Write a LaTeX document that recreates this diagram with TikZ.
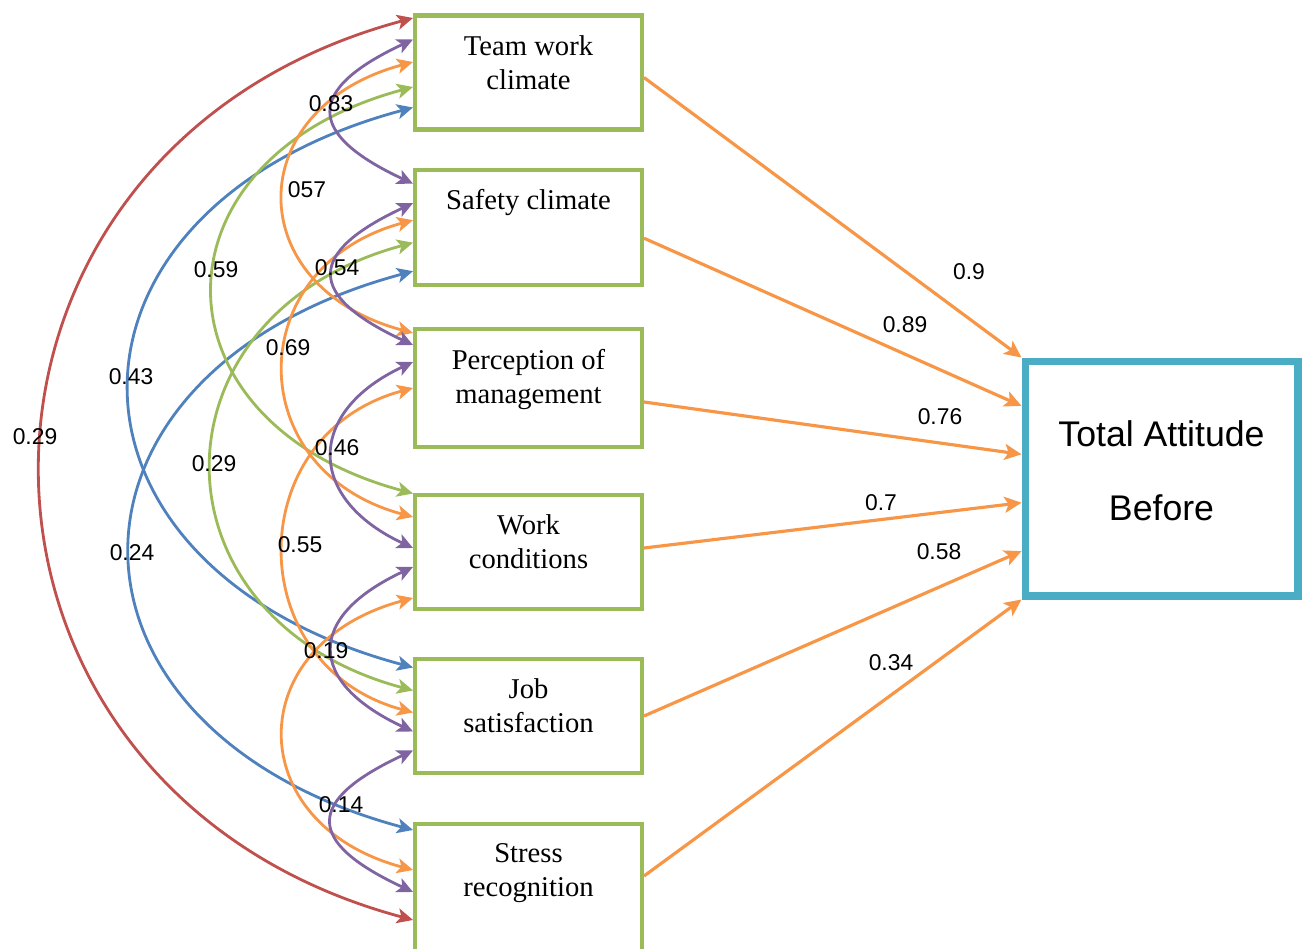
\documentclass[tikz,border=0pt]{standalone}
\usepackage{fontspec}
\setmainfont{Liberation Serif}
\newfontfamily\numfont{Liberation Sans}
\usepackage{xcolor}
\usetikzlibrary{arrows.meta,calc}
\definecolor{facgreen}{HTML}{9BBB59}
\definecolor{totalteal}{HTML}{4BACC6}
\definecolor{pathorange}{HTML}{F79646}
\definecolor{corrblue}{HTML}{4F81BD}
\definecolor{corrred}{HTML}{C0504D}
\definecolor{corrpurple}{HTML}{8064A2}
\definecolor{corrgreen}{HTML}{9BBB59}
\tikzset{
  factorbox/.style={rectangle,draw=facgreen,line width=2.3pt,inner sep=0pt,font=\fontsize{16.3pt}{19.3pt}\selectfont,
    execute at begin node={\begin{minipage}[c][#1][t]{4.54cm}\centering\vspace*{0.4cm}},
    execute at end node={\end{minipage}}},
  factorbox/.default=2.28cm,
  totalbox/.style={rectangle,draw=totalteal,line width=4pt,minimum width=5.46cm,minimum height=4.7cm,align=center,font=\numfont\fontsize{20.3pt}{42pt}\selectfont},
  corr/.style={{Stealth[length=0.32cm,width=0.3cm,inset=0.08cm]}-{Stealth[length=0.32cm,width=0.3cm,inset=0.08cm]},line width=1.6pt,out=195,in=165},
  near/.style={out=205,in=155},
  effect/.style={-{Stealth[length=0.34cm,width=0.32cm,inset=0.08cm]},draw=pathorange,line width=1.8pt},
  coef/.style={font=\numfont\fontsize{13pt}{15pt}\selectfont,inner sep=0pt}
}

\begin{document}
\begin{tikzpicture}[x=0.02cm,y=-0.02cm]
  \useasboundingbox (0,0) rectangle (1302,948);

  % factors and outcome
  \node[factorbox] (team) at (528.5,72.5) {Team work\\climate};
  \node[factorbox=2.3cm] (safety) at (528.5,227.2) {Safety climate};
  \node[factorbox=2.36cm] (percep) at (528.5,388) {Perception of\\management};
  \node[factorbox] (work) at (528.5,552) {Work\\conditions};
  \node[factorbox] (job) at (528.5,716) {Job\\satisfaction};
  \node[factorbox=2.8cm] (stress) at (528.5,893.5) {Stress\\recognition};
  \node[totalbox] (total) at (1161.5,478.5) {Total Attitude\\Before\rule[-0.32cm]{0pt}{0pt}};

  % ports on the left sides
  \coordinate (team-red) at ([yshift=-0.09cm]team.north west);
  \coordinate (team-pu) at ([yshift=-0.52cm]team.north west);
  \coordinate (team-or) at ([yshift=-0.97cm]team.north west);
  \coordinate (team-gr) at ([yshift=-1.47cm]team.north west);
  \coordinate (team-bl) at ([yshift=-1.88cm]team.north west);
  \coordinate (safety-pu1) at ([yshift=-0.32cm]safety.north west);
  \coordinate (safety-pu2) at ([yshift=-0.71cm]safety.north west);
  \coordinate (safety-or) at ([yshift=-1.05cm]safety.north west);
  \coordinate (safety-gr) at ([yshift=-1.5cm]safety.north west);
  \coordinate (safety-bl) at ([yshift=-2.07cm]safety.north west);
  \coordinate (percep-or1) at ([yshift=-0.12cm]percep.north west);
  \coordinate (percep-pu1) at ([yshift=-0.36cm]percep.north west);
  \coordinate (percep-pu2) at ([yshift=-0.7cm]percep.north west);
  \coordinate (percep-or2) at ([yshift=-1.22cm]percep.north west);
  \coordinate (work-gr) at ([yshift=-0.01cm]work.north west);
  \coordinate (work-or1) at ([yshift=-0.48cm]work.north west);
  \coordinate (work-pu1) at ([yshift=-1.1cm]work.north west);
  \coordinate (work-pu2) at ([yshift=-1.48cm]work.north west);
  \coordinate (work-or2) at ([yshift=-2.1cm]work.north west);
  \coordinate (job-bl) at ([yshift=-0.21cm]job.north west);
  \coordinate (job-gr) at ([yshift=-0.67cm]job.north west);
  \coordinate (job-or) at ([yshift=-1.11cm]job.north west);
  \coordinate (job-pu1) at ([yshift=-1.49cm]job.north west);
  \coordinate (job-pu2) at ([yshift=-1.87cm]job.north west);
  \coordinate (stress-bl) at ([yshift=-0.17cm]stress.north west);
  \coordinate (stress-or) at ([yshift=-0.97cm]stress.north west);
  \coordinate (stress-pu) at ([yshift=-1.41cm]stress.north west);
  \coordinate (stress-red) at ([yshift=-1.97cm]stress.north west);

  % correlations
  \draw[corr,corrred] (team-red) to[looseness=1.46] (stress-red);
  \draw[corr,corrblue] (team-bl) to[looseness=1.79] (job-bl);
  \draw[corr,corrblue] (safety-bl) to[looseness=1.79] (stress-bl);
  \draw[corr,corrgreen] (team-gr) to[looseness=1.74] (work-gr);
  \draw[corr,corrgreen] (safety-gr) to[looseness=1.59] (job-gr);
  \draw[corr,pathorange] (team-or) to[looseness=1.69] (percep-or1);
  \draw[corr,pathorange] (safety-or) to[looseness=1.54] (work-or1);
  \draw[corr,pathorange] (percep-or2) to[looseness=1.41] (job-or);
  \draw[corr,pathorange] (work-or2) to[looseness=1.68] (stress-or);
  \draw[corr,near,corrpurple] (team-pu) to[looseness=2.11] (safety-pu1);
  \draw[corr,near,corrpurple] (safety-pu2) to[looseness=2.13] (percep-pu1);
  \draw[corr,near,corrpurple] (percep-pu2) to[looseness=1.63] (work-pu1);
  \draw[corr,near,corrpurple] (work-pu2) to[looseness=1.84] (job-pu1);
  \draw[corr,near,corrpurple] (job-pu2) to[looseness=2.16] (stress-pu);

  \node[coef] (c-team-safety) at (331,104) {0.83};
  \node[coef] (c-team-percep) at (307,190) {057};
  \node[coef] (c-team-work) at (216,270) {0.59};
  \node[coef] (c-safety-percep) at (337,268) {0.54};
  \node[coef] (c-team-job) at (131,377) {0.43};
  \node[coef] (c-safety-work) at (288,348) {0.69};
  \node[coef] (c-team-stress) at (35,437) {0.29};
  \node[coef] (c-safety-job) at (214,464) {0.29};
  \node[coef] (c-percep-work) at (337,448) {0.46};
  \node[coef] (c-safety-stress) at (132,553) {0.24};
  \node[coef] (c-percep-job) at (300,545) {0.55};
  \node[coef] (c-work-job) at (326,651) {0.19};
  \node[coef] (c-job-stress) at (341,805) {0.14};

  % paths to the outcome
  \draw[effect] ([yshift=-0.1cm]team.east) -- (total.north west);
  \draw[effect] ([yshift=-0.22cm]safety.east) -- ($(total.north west)!0.2!(total.south west)$);
  \draw[effect] ([yshift=-0.28cm]percep.east) -- ($(total.north west)!0.4!(total.south west)$);
  \draw[effect] ([yshift=0.08cm]work.east) -- ($(total.north west)!0.6!(total.south west)$);
  \draw[effect] (job.east) -- ($(total.north west)!0.8!(total.south west)$);
  \draw[effect] ([yshift=0.35cm]stress.east) -- (total.south west);

  \node[coef] (e-team) at (969,272) {0.9};
  \node[coef] (e-safety) at (905,325) {0.89};
  \node[coef] (e-percep) at (940,417) {0.76};
  \node[coef] (e-work) at (881,503) {0.7};
  \node[coef] (e-job) at (939,552) {0.58};
  \node[coef] (e-stress) at (891,663) {0.34};
\end{tikzpicture}
\end{document}
